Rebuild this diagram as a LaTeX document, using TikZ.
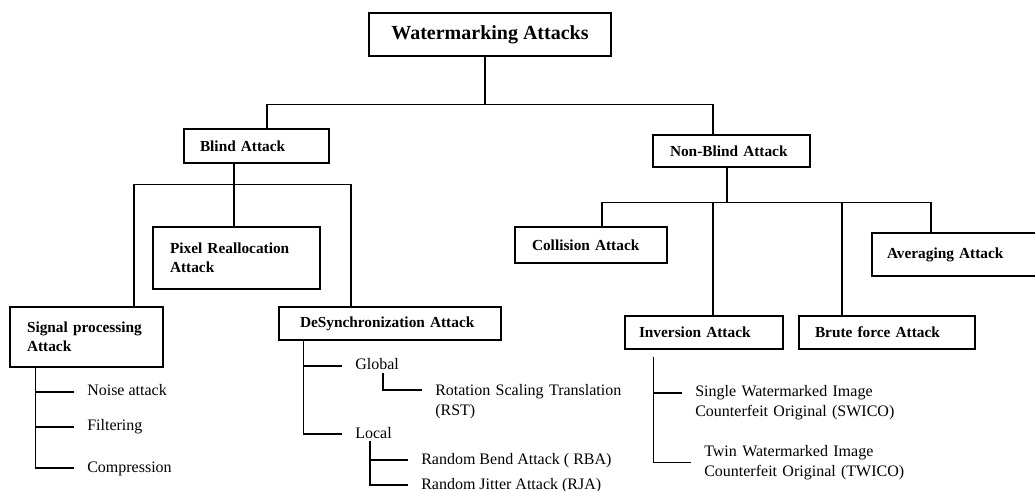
\documentclass[tikz,border=0pt]{standalone}
\usepackage{fontspec}
\setmainfont{Liberation Serif}
\usetikzlibrary{calc}
\begin{document}
\begin{tikzpicture}[x=0.75pt,y=-0.75pt,
  box/.style={draw, line width=1pt, align=left, inner ysep=0pt,
    font=\bfseries\fontsize{11.5}{14}\selectfont},
  leaf/.style={anchor=west, inner xsep=9.75pt, inner ysep=0pt,
    text height=8pt, text depth=2pt, font=\fontsize{12}{15}\selectfont},
  leafm/.style={anchor=base west, inner xsep=9.75pt, inner ysep=0pt,
    text width=170pt, align=left, font=\fontsize{12}{15}\selectfont},
  conn/.style={line width=1pt}]
\useasboundingbox (0,0) rectangle (1035,491);
\fill[white] (0,0) rectangle (1035,491);
\clip (0,0) rectangle (1035,491);

% boxes
\node[box, align=center, inner xsep=0pt, minimum width=181.5pt, minimum height=32.25pt,
  font=\bfseries\fontsize{15}{18}\selectfont] (title) at (490,34.5) {Watermarking Attacks};
\node[box, minimum width=108.75pt, minimum height=25.5pt, inner xsep=12pt, text width=84.75pt]
  (blind) at (256.5,146) {Blind~Attack};
\node[box, minimum width=117.75pt, minimum height=24pt, inner xsep=12.75pt, text width=92.25pt]
  (nonblind) at (731.5,151) {Non-Blind~Attack};
\node[box, minimum width=125.25pt, minimum height=46.5pt, inner xsep=12.75pt, text width=99.75pt]
  (pixel) at (236.5,258) {Pixel Reallocation\\Attack};
\node[box, minimum width=114.75pt, minimum height=45pt, inner xsep=12.75pt, text width=89.25pt]
  (signal) at (86.5,337) {Signal processing\\Attack};
\node[box, minimum width=166.5pt, minimum height=24.75pt, inner xsep=15.75pt, text width=135pt]
  (desync) at (390,323.5) {DeSynchronization~Attack};
\node[box, minimum width=114pt, minimum height=27pt, inner xsep=12.75pt, text width=88.5pt]
  (collision) at (591,245) {Collision~Attack};
\node[box, minimum width=126pt, minimum height=32.25pt, inner xsep=11.25pt, text width=103.5pt]
  (averaging) at (956,254.5) {Averaging~Attack};
\node[box, minimum width=118.5pt, minimum height=24.75pt, inner xsep=10.5pt, text width=97.5pt]
  (inversion) at (704,332.5) {Inversion~Attack};
\node[box, minimum width=132pt, minimum height=24.75pt, inner xsep=12pt, text width=108pt]
  (brute) at (887,332.5) {Brute~force~Attack};

% leaves
\node[leaf] (noise) at (74,392) {Noise attack};
\node[leaf] (filtering) at (74,427) {Filtering};
\node[leaf] (compression) at (74,468) {Compression};
\node[leaf] (global) at (342,366) {Global};
\node[leaf] (local) at (342,434) {Local};
\node[leafm] (rst) at (422,396) {Rotation Scaling Translation\\(RST)};
\node[leaf] (rba) at (408,460) {Random Bend Attack ( RBA)};
\node[leaf] (rja) at (408,485) {Random Jitter Attack (RJA)};
\node[leafm] (swico) at (682,397) {Single Watermarked Image\\Counterfeit Original (SWICO)};
\node[leafm] (twico) at (691,456) {Twin Watermarked Image\\Counterfeit Original (TWICO)};

% top level
\coordinate (tj) at ($(title.south)+(-5,48)$);
\draw[conn] ($(title.south)+(-5,0)$) -- (tj);
\draw[conn] ([xshift=7.875pt]blind.north) |- (tj) -| ([xshift=-13.875pt]nonblind.north);

% blind
\coordinate (bj) at ($(blind.south)+(-22.5,21)$);
\draw[conn] ($(blind.south)+(-22.5,0)$) -- (bj) -- (bj |- pixel.north);
\draw[conn] ([xshift=35.625pt]signal.north) |- (bj) -| ([xshift=-29.25pt]desync.north);

% non-blind
\coordinate (nj) at ($(nonblind.south)+(-4.5,35)$);
\draw[conn] ($(nonblind.south)+(-4.5,0)$) -- (nj);
\draw[conn] ([xshift=8.25pt]collision.north) |- (nj) -| ([xshift=-18.75pt]averaging.north);
\draw[conn] (nj) -| ([xshift=6.75pt]inversion.north);
\draw[conn] (nj) -| ([xshift=-33.75pt]brute.north);

% signal subtree
\coordinate (st) at ($(signal.south west)+(26,0)$);
\draw[conn] (st) |- (noise.west);
\draw[conn] (st) |- (filtering.west);
\draw[conn] (st) |- (compression.west);

% desync subtree
\coordinate (dt) at ($(desync.south west)+(25,0)$);
\draw[conn] (dt) |- (global.west);
\draw[conn] (dt) |- (local.west);
\coordinate (gt) at ($(global.south west)+(41,0)$);
\draw[conn] (gt) |- ($(rst.base west)+(0,-6)$);
\coordinate (lt) at ($(local.south west)+(28,0)$);
\draw[conn] (lt) |- (rba.west);
\draw[conn] (lt) |- (rja.west);

% inversion subtree
\coordinate (it) at ($(inversion.south west)+(29,7)$);
\draw[conn] (it) |- ($(swico.base west)+(0,-4)$);
\draw[conn] (it) |- (twico.west);
\end{tikzpicture}
\end{document}
